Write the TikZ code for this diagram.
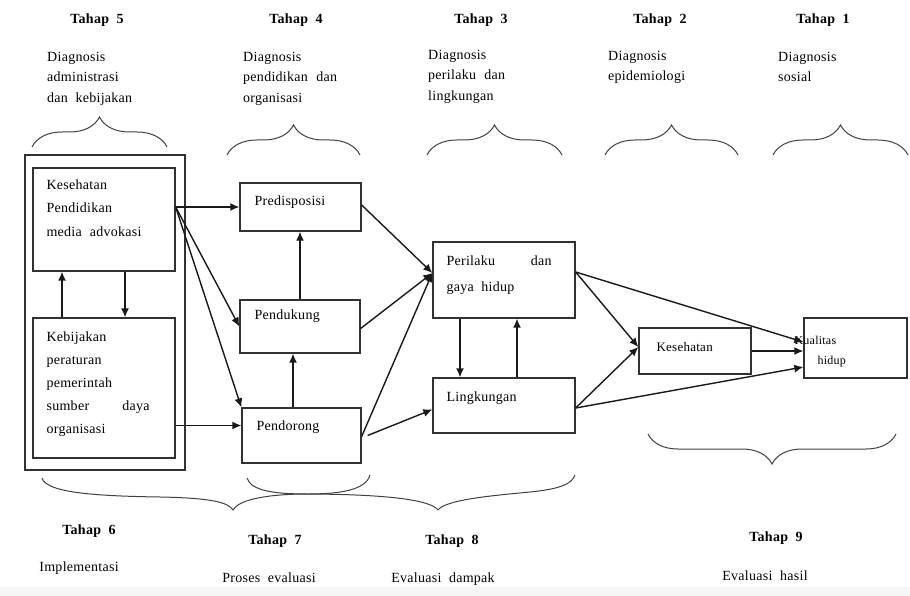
\documentclass[tikz,border=0pt]{standalone}
\usepackage{fontspec}
\setmainfont{Liberation Serif}[LetterSpace=2]
\usepackage{tikz}
\usetikzlibrary{positioning}
\usetikzlibrary{arrows.meta}
\usetikzlibrary{decorations.pathreplacing}
\definecolor{garis}{RGB}{50,50,50}

\begin{document}
\begin{tikzpicture}[x=1pt,y=1pt,
  every node/.style={font=\fontsize{14}{20.5}\selectfont},
  kotak/.style={draw=garis,line width=1.3pt,inner sep=0pt},
  isi/.style={inner sep=0pt,anchor=north west,align=left,font=\fontsize{14}{23.5}\selectfont},
  diag/.style={inner sep=0pt,anchor=north west,align=left},
  tahap/.style={font=\fontsize{14}{15}\selectfont\bfseries},
  panah/.style={-{Latex[length=9pt,width=8pt]},line width=1.4pt,draw=black!90},
  kurung/.style={decorate,decoration={brace,amplitude=30pt},line width=1pt,draw=black!75},
  lengkung/.style={line width=1pt,draw=black!75}]
\useasboundingbox (0,0) rectangle (910,-596);
\fill[gray!6] (0,-587) rectangle (910,-596);
\node[tahap] (t5) at (97,-20) {Tahap~~5};
\node[tahap] (t4) at (296,-20) {Tahap~~4};
\node[tahap] (t3) at (481,-20) {Tahap~~3};
\node[tahap] (t2) at (660,-20) {Tahap~~2};
\node[tahap] (t1) at (823,-20) {Tahap~~1};
\node[diag] (d5) at (47,-52) {Diagnosis\\administrasi\\dan~~kebijakan};
\node[diag] (d4) at (243,-52) {Diagnosis\\\hbox to 94pt{pendidikan\hfill dan}\\organisasi};
\node[diag] (d3) at (428,-50) {Diagnosis\\\hbox to 77pt{perilaku\hfill dan}\\lingkungan};
\node[diag] (d2) at (608,-51) {Diagnosis\\epidemiologi};
\node[diag] (d1) at (778,-52) {Diagnosis\\sosial};
\draw[kurung] (32,-147) -- (167,-147);
\draw[kurung] (227,-155) -- (360,-155);
\draw[kurung] (427,-155) -- (562,-155);
\draw[kurung] (605,-155) -- (738,-155);
\draw[kurung] (773,-155) -- (908,-155);
\node[kotak,minimum width=160pt,minimum height=315pt] (luar) at (105,-312.5) {};
\node[kotak,minimum width=142pt,minimum height=103pt] (kes) at (104,-219.5) {};
\node[kotak,minimum width=142pt,minimum height=140pt] (keb) at (104,-388) {};
\node[kotak,minimum width=121pt,minimum height=48pt] (pre) at (300.5,-207) {};
\node[kotak,minimum width=120pt,minimum height=53pt] (duk) at (300,-326.5) {};
\node[kotak,minimum width=119pt,minimum height=55pt] (dor) at (301.5,-435.5) {};
\node[kotak,minimum width=142pt,minimum height=76pt] (per) at (504,-280) {};
\node[kotak,minimum width=142pt,minimum height=55pt] (lin) at (504,-405.5) {};
\node[kotak,minimum width=112pt,minimum height=46pt] (sht) at (695,-351) {};
\node[kotak,minimum width=103pt,minimum height=60pt] (kua) at (855.5,-348) {};
\node[isi,below right=12pt and 14pt of kes.north west] (tkes) {Kesehatan\\Pendidikan\\\hbox to 95pt{media\hfill advokasi}};
\node[isi,below right=14pt and 14pt of keb.north west,font=\fontsize{14}{23}\selectfont] (tkeb) {Kebijakan\\peraturan\\pemerintah\\\hbox to 103pt{sumber\hfill daya}\\organisasi};
\node[isi,below right=13pt and 15pt of pre.north west] (tpre) {Predisposisi};
\node[isi,below right=10pt and 15pt of duk.north west] (tduk) {Pendukung};
\node[isi,below right=13pt and 15pt of dor.north west] (tdor) {Pendorong};
\node[isi,below right=14pt and 14pt of per.north west,font=\fontsize{14}{26}\selectfont] (tper) {\hbox to 105pt{Perilaku\hfill dan}\\gaya~~hidup};
\node[isi,below right=14pt and 14pt of lin.north west] (tlin) {Lingkungan};
\node[isi,below right=15pt and 18pt of sht.north west,font=\fontsize{13}{20}\selectfont] (tsht) {Kesehatan};
\node[isi,below right=19pt and -9pt of kua.north west,font=\fontsize{12}{20}\selectfont] (tkua) {Kualitas\\\hspace*{23pt}hidup};
\coordinate (k1) at ([xshift=-42pt]keb.north);
\coordinate (k2) at ([xshift=21pt]kes.south);
\coordinate (u1) at ([xshift=-8.5pt]dor.north);
\coordinate (v1) at ([xshift=-44pt]per.south);
\coordinate (v2) at ([xshift=13pt]lin.north);
\coordinate (dd) at ([yshift=10pt]dor.west);
\coordinate (p1) at ([yshift=7pt]per.west);
\coordinate (s1) at ([yshift=4pt]sht.west);
\coordinate (r1) at ([yshift=8pt]per.east);
\coordinate (r2) at ([yshift=-2.5pt]lin.east);
\draw[panah] (kes.east |- pre.west) -- (pre.west);
\draw[panah] (kes.east |- pre.west) -- (duk.west);
\draw[panah] (kes.east |- pre.west) -- (dor.north west);
\draw[panah] (keb.east |- dd) -- (dd);
\draw[panah] (k1) -- (k1 |- kes.south);
\draw[panah] (k2) -- (k2 |- keb.north);
\draw[panah] (duk.north) -- (duk.north |- pre.south);
\draw[panah] (u1) -- (u1 |- duk.south);
\draw[panah] ([yshift=2pt]pre.east) -- (p1);
\draw[panah] ([yshift=-2pt]duk.east) -- (p1);
\draw[panah] ([yshift=-1pt]dor.east) -- (p1);
\draw[panah] ([xshift=6pt]dor.east) -- ([yshift=-4pt]lin.west);
\draw[panah] (v1) -- (v1 |- lin.north);
\draw[panah] (v2) -- (v2 |- per.south);
\draw[panah] (r1) -- (s1);
\draw[panah] (r1) -- ([yshift=6pt]kua.west);
\draw[panah] (r2) -- (s1);
\draw[panah] (r2) -- ([yshift=-19pt]kua.west);
\draw[panah] (sht.east) -- (sht.east -| kua.west);
\draw[kurung] (896,-434) -- (648,-434);
\draw[lengkung] (42,-478) .. controls (46,-492) and (90,-496) .. (160,-497)
  .. controls (210,-498) and (228,-502) .. (233,-510)
  .. controls (238,-501) and (260,-495) .. (300,-494)
  .. controls (380,-494) and (430,-499) .. (438,-510)
  .. controls (446,-499) and (500,-495) .. (530,-492)
  .. controls (560,-489) and (572,-484) .. (575,-475);
\draw[lengkung] (247,-478) .. controls (251,-491) and (275,-494) .. (308,-494)
  .. controls (340,-494) and (366,-490) .. (370,-475);
\node[tahap] (t6) at (89,-531) {Tahap~~6};
\node (i6) at (79,-568) {Implementasi};
\node[tahap] (t7) at (275,-541) {Tahap~~7};
\node (i7) at (269,-578) {Proses~~evaluasi};
\node[tahap] (t8) at (452,-541) {Tahap~~8};
\node (i8) at (443,-579) {Evaluasi~~dampak};
\node[tahap] (t9) at (776,-538) {Tahap~~9};
\node (i9) at (765,-576) {Evaluasi~~hasil};
\end{tikzpicture}
\end{document}
